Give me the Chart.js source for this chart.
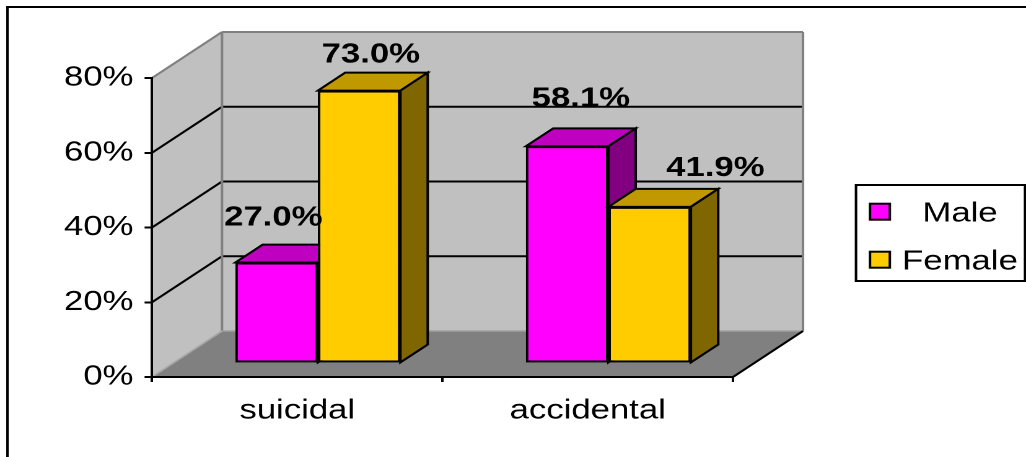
<!DOCTYPE html>
<html>
<head>
<meta charset="utf-8">
<script src="https://cdn.jsdelivr.net/npm/chart.js@4.4.1/dist/chart.umd.min.js"></script>
<style>
  html, body { margin:0; padding:0; background:#fff; overflow:hidden; }
  #wrap { position:absolute; left:0; top:0; width:828px; height:457px; transform-origin:0 0; }
</style>
</head>
<body>
<div id="wrap"><canvas id="c"></canvas></div>
<script>
// ---- data ----
const categories = ['suicidal', 'accidental'];
const seriesNames = ['Male', 'Female'];
const maleValues = [27.0, 58.1];
const femaleValues = [73.0, 41.9];
const yTickValues = [0, 20, 40, 60, 80];

// ---- layout / style ----
const W = 828, H = 457;
const S = 1026 / W;                 // horizontal stretch of the original picture
document.getElementById('wrap').style.transform = 'scaleX(' + S + ')';
const DX = 70 / S, DY = -46;        // full 3D depth offset
const BAR_FRONT = 0.295, BAR_DEPTH = 0.39;
const FONT = "'Liberation Sans', Arial, sans-serif";
const faceColors = [
  { front: '#FF00FF', top: '#C000C0', side: '#800080' },
  { front: '#FFCC00', top: '#C09900', side: '#806600' }
];
const labelNudge = [ // [dx (px), rise (px)] per dataset per category
  [[-13.7, 28], [0, 31]],
  [[-1.6, 19], [42, 22]]
];

function poly(ctx, pts, fill, stroke, lw) {
  ctx.beginPath();
  ctx.moveTo(pts[0][0], pts[0][1]);
  for (let i = 1; i < pts.length; i++) ctx.lineTo(pts[i][0], pts[i][1]);
  ctx.closePath();
  if (fill) { ctx.fillStyle = fill; ctx.fill(); }
  if (stroke) { ctx.strokeStyle = stroke; ctx.lineWidth = lw || 2; ctx.lineJoin = 'miter'; ctx.stroke(); }
}
function line(ctx, x1, y1, x2, y2, color, lw) {
  ctx.beginPath(); ctx.moveTo(x1, y1); ctx.lineTo(x2, y2);
  ctx.strokeStyle = color; ctx.lineWidth = lw; ctx.stroke();
}

const threeD = {
  id: 'threeD',
  beforeDraw(chart) {
    const ctx = chart.ctx;
    const { left: L, right: R, top: T, bottom: B } = chart.chartArea;
    const ys = chart.scales.y;
    ctx.save();
    ctx.fillStyle = '#fff';
    ctx.fillRect(0, 0, W, H);
    // outer border (only top & left are inside the picture)
    ctx.strokeStyle = '#000'; ctx.lineWidth = 2;
    ctx.strokeRect(6, 7, W + 20, H + 20);
    // back wall
    poly(ctx, [[L + DX, T + DY], [R + DX, T + DY], [R + DX, B + DY], [L + DX, B + DY]], '#C0C0C0');
    // side wall
    poly(ctx, [[L, T], [L + DX, T + DY], [L + DX, B + DY], [L, B]], '#C0C0C0');
    // floor
    poly(ctx, [[L, B], [R, B], [R + DX, B + DY], [L + DX, B + DY]], '#808080');
    // gridlines
    const maxV = yTickValues[yTickValues.length - 1];
    yTickValues.forEach(v => {
      if (v === 0 || v === maxV) return;
      const y = ys.getPixelForValue(v);
      line(ctx, L, y, L + DX, y + DY, '#000', 2);
      line(ctx, L + DX, y + DY, R + DX, y + DY, '#000', 2);
    });
    // wall edges
    line(ctx, L, T, L + DX, T + DY, '#808080', 2);
    line(ctx, L + DX, T + DY, R + DX, T + DY, '#808080', 2);
    line(ctx, L + DX, T + DY, L + DX, B + DY, '#808080', 2);
    line(ctx, R + DX, T + DY, R + DX, B + DY, '#808080', 2);
    line(ctx, L + DX, B + DY, R + DX, B + DY, '#A0A0A0', 1.5);
    line(ctx, L, B, L + DX, B + DY, '#A8A8A8', 1.5);
    line(ctx, R, B, R + DX, B + DY, '#000', 2);
    ctx.restore();
  },
  beforeDatasetsDraw(chart) {
    const ctx = chart.ctx;
    ctx.save();
    ctx.translate(BAR_FRONT * DX, BAR_FRONT * DY);
  },
  afterDatasetsDraw(chart) {
    const ctx = chart.ctx;
    const bdx = BAR_DEPTH * DX, bdy = BAR_DEPTH * DY;
    // redraw in painter's order: category by category, series left to right
    categories.forEach((c, i) => {
      chart.data.datasets.forEach((ds, d) => {
        const el = chart.getDatasetMeta(d).data[i];
        el.draw(ctx);
        const { x, y, base, width } = el.getProps(['x', 'y', 'base', 'width'], true);
        const x0 = x - width / 2, x1 = x + width / 2;
        const col = faceColors[d];
        poly(ctx, [[x0, y], [x1, y], [x1 + bdx, y + bdy], [x0 + bdx, y + bdy]], col.top, '#000', 2);
        poly(ctx, [[x1, y], [x1 + bdx, y + bdy], [x1 + bdx, base + bdy], [x1, base]], col.side, '#000', 2);
      });
    });
    // data labels
    ctx.font = 'bold 28px ' + FONT;
    ctx.fillStyle = '#000';
    ctx.textAlign = 'center';
    ctx.textBaseline = 'alphabetic';
    categories.forEach((c, i) => {
      chart.data.datasets.forEach((ds, d) => {
        const el = chart.getDatasetMeta(d).data[i];
        const { x, y } = el.getProps(['x', 'y'], true);
        const n = labelNudge[d][i];
        ctx.fillText(ds.data[i].toFixed(1) + '%', x + bdx / 2 + n[0], y + bdy / 2 - n[1]);
      });
    });
    ctx.restore();
  },
  afterDraw(chart) {
    const ctx = chart.ctx;
    ctx.save();
    // legend box
    const lx = 856 / S, ly = 185, lw = 1025 / S - lx, lh = 96;
    ctx.fillStyle = '#fff';
    ctx.fillRect(lx, ly, lw, lh);
    ctx.strokeStyle = '#000'; ctx.lineWidth = 2;
    ctx.strokeRect(lx, ly, lw, lh);
    ctx.font = '28px ' + FONT;
    ctx.textAlign = 'center';
    ctx.textBaseline = 'alphabetic';
    chart.data.datasets.forEach((ds, d) => {
      const cy = 211.7 + d * 48;
      const sx = 870 / S, sw = 16, sh = 16;
      ctx.fillStyle = ds.backgroundColor;
      ctx.fillRect(sx, cy - sh / 2, sw, sh);
      ctx.strokeStyle = '#000'; ctx.lineWidth = 2;
      ctx.strokeRect(sx, cy - sh / 2, sw, sh);
      ctx.fillStyle = '#000';
      ctx.fillText(ds.label, 960 / S, cy + 10);
    });
    ctx.restore();
  }
};

new Chart(document.getElementById('c'), {
  type: 'bar',
  data: {
    labels: categories,
    datasets: [
      { label: seriesNames[0], data: maleValues, backgroundColor: faceColors[0].front },
      { label: seriesNames[1], data: femaleValues, backgroundColor: faceColors[1].front }
    ]
  },
  options: {
    responsive: true,
    maintainAspectRatio: false,
    animation: false,
    devicePixelRatio: 2,
    events: [],
    layout: { padding: { left: 0, top: 78, right: W - 733 / S, bottom: 0 } },
    datasets: {
      bar: {
        categoryPercentage: 0.568, barPercentage: 1.0,
        borderColor: '#000', borderWidth: 2, borderSkipped: false, clip: false
      }
    },
    plugins: { legend: { display: false }, tooltip: { enabled: false } },
    scales: {
      x: {
        offset: true,
        grid: { display: true, offset: true, drawOnChartArea: false, drawTicks: true, tickLength: 5, color: '#000', lineWidth: 2 },
        border: { display: true, color: '#000', width: 2 },
        ticks: { color: '#000', font: { family: FONT, size: 28 }, padding: 12, maxRotation: 0 },
        afterFit(scale) { scale.height = H - 377; }
      },
      y: {
        min: 0, max: 80,
        grid: { display: true, drawOnChartArea: false, drawTicks: true, tickLength: 6, color: '#000', lineWidth: 2 },
        border: { display: true, color: '#000', width: 2 },
        ticks: { color: '#000', font: { family: FONT, size: 28 }, padding: 9, callback: v => v + '%' },
        afterBuildTicks(scale) { scale.ticks = yTickValues.map(v => ({ value: v })); },
        afterFit(scale) { scale.width = 152 / S; }
      }
    }
  },
  plugins: [threeD]
});
</script>
</body>
</html>
